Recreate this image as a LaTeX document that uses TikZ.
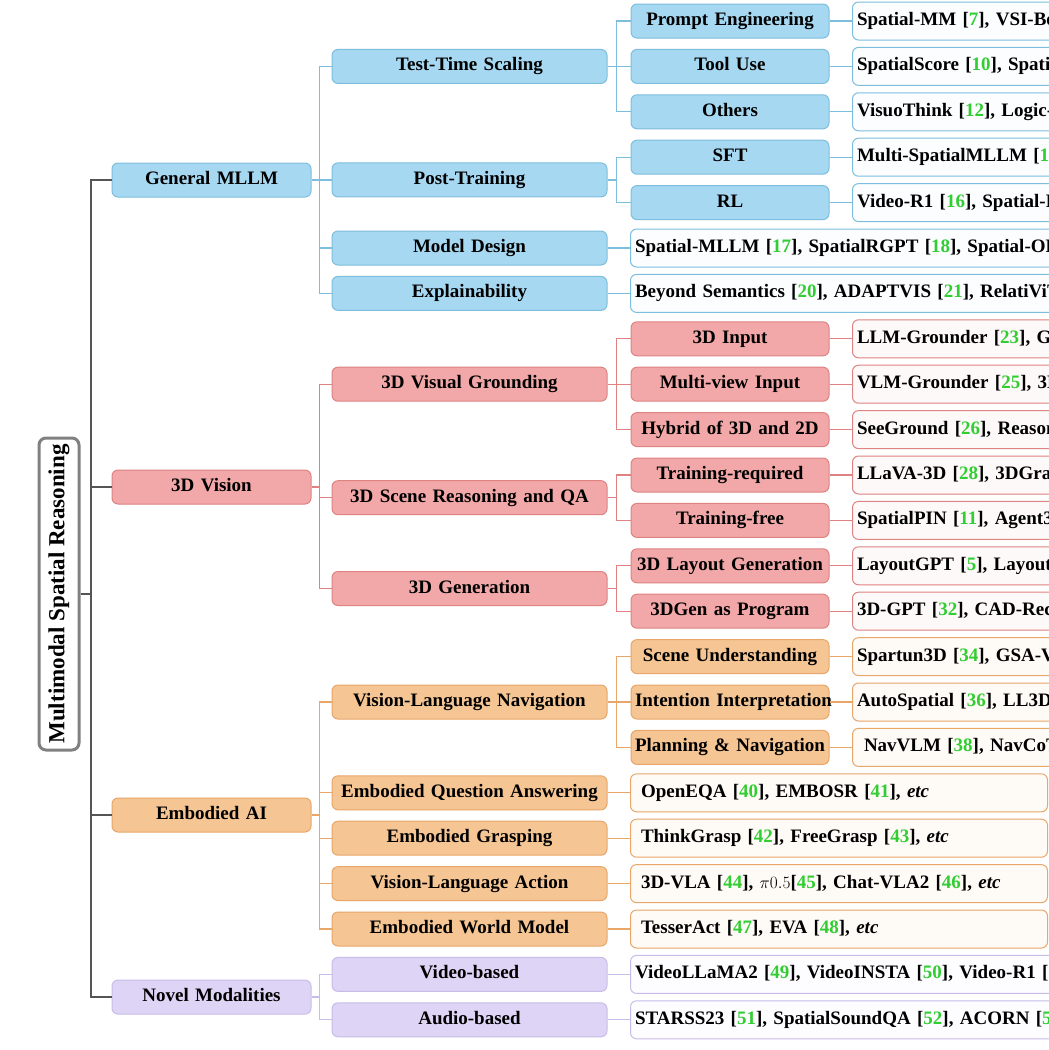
\documentclass[tikz,border=0pt]{standalone}
\usepackage{fontspec}
\setmainfont{Liberation Serif}
\definecolor{cgreen}{RGB}{50,205,50}
\definecolor{bfill}{RGB}{166,216,242}
\definecolor{bdraw}{RGB}{125,190,222}
\definecolor{rfill}{RGB}{242,168,168}
\definecolor{rdraw}{RGB}{222,130,130}
\definecolor{ofill}{RGB}{245,197,148}
\definecolor{odraw}{RGB}{232,166,104}
\definecolor{pfill}{RGB}{222,212,245}
\definecolor{pdraw}{RGB}{200,188,232}
\definecolor{trunk}{RGB}{85,85,85}
\definecolor{rootdraw}{RGB}{128,128,128}
\newcommand{\rf}[1]{[\textcolor{cgreen}{#1}]}
\tikzset{
  fnt/.style={font=\fontsize{19}{22}\selectfont\bfseries},
  box/.style={fnt, rounded corners=6pt, line width=1pt, inner ysep=0pt, inner xsep=4pt,
    minimum height=34pt, align=center, text height=13pt, text depth=4pt},
  lone/.style={box, text width=191pt},
  ltwo/.style={box, text width=267pt},
  lthree/.style={box, text width=190pt},
  leaf/.style={fnt, rounded corners=6pt, line width=1pt, inner ysep=0pt, inner xsep=4.5pt,
    minimum height=38pt, align=left, anchor=west, text height=13pt, text depth=4pt},
  lfar/.style={leaf, text width=600pt},
  lemb/.style={leaf, text width=408pt},
  B/.style={fill=bfill, draw=bdraw},
  R/.style={fill=rfill, draw=rdraw},
  O/.style={fill=ofill, draw=odraw},
  P/.style={fill=pfill, draw=pdraw},
  BL/.style={fill=bfill!4!white, draw=bdraw},
  RL/.style={fill=rfill!7!white, draw=rdraw},
  OL/.style={fill=ofill!8!white, draw=odraw},
  PL/.style={fill=pfill!7!white, draw=pdraw},
  bline/.style={draw=bdraw, line width=1.3pt},
  rline/.style={draw=rdraw, line width=1.3pt},
  oline/.style={draw=odraw, line width=1.3pt},
  pline/.style={draw=pdraw, line width=1.3pt},
  gline/.style={draw=trunk, line width=2pt},
}
\begin{document}
\begin{tikzpicture}[x=1pt,y=-1pt]
\useasboundingbox (0,0) rectangle (1049,1050);
\clip (0,0) rectangle (1049,1050);
\fill[white] (0,0) rectangle (1049,1050);

% root
\node[rotate=90, draw=rootdraw, line width=3pt, rounded corners=7pt, fill=white,
  minimum width=312pt, minimum height=40pt, inner sep=0pt,
  font=\fontsize{23}{26}\selectfont\bfseries] (root) at (59,594) {Multimodal Spatial Reasoning};

% level 1
\node[lone,B] (gen) at (211.5,180) {General MLLM};
\node[lone,R] (vis) at (211.5,487) {3D Vision};
\node[lone,O] (emb) at (211.5,815) {Embodied AI};
\node[lone,P] (nov) at (211.5,997.1) {Novel Modalities};

% level 2
\node[ltwo,B] (tts) at (469.5,66.4) {Test-Time Scaling};
\node[ltwo,B] (post) at (469.5,179.9) {Post-Training};
\node[ltwo,B] (mdes) at (469.5,248) {Model Design};
\node[ltwo,B] (expl) at (469.5,293.4) {Explainability};
\node[ltwo,R] (vg) at (469.5,384.2) {3D Visual Grounding};
\node[ltwo,R] (srq) at (469.5,497.7) {3D Scene Reasoning and QA};
\node[ltwo,R] (gthree) at (469.5,588.5) {3D Generation};
\node[ltwo,O] (vln) at (469.5,702) {Vision-Language Navigation};
\node[ltwo,O] (eqa) at (469.5,792.8) {Embodied Question Answering};
\node[ltwo,O] (grasp) at (469.5,838.2) {Embodied Grasping};
\node[ltwo,O] (vla) at (469.5,883.6) {Vision-Language Action};
\node[ltwo,O] (ewm) at (469.5,929) {Embodied World Model};
\node[ltwo,P] (video) at (469.5,974.4) {Video-based};
\node[ltwo,P] (audio) at (469.5,1019.8) {Audio-based};

% level 3
\node[lthree,B] (pe) at (730,21) {Prompt Engineering};
\node[lthree,B] (tool) at (730,66.4) {Tool Use};
\node[lthree,B] (oth) at (730,111.8) {Others};
\node[lthree,B] (sft) at (730,157.2) {SFT};
\node[lthree,B] (rl) at (730,202.6) {RL};
\node[lthree,R] (tdin) at (730,338.8) {3D Input};
\node[lthree,R] (mv) at (730,384.2) {Multi-view Input};
\node[lthree,R] (hyb) at (730,429.6) {Hybrid of 3D and 2D};
\node[lthree,R] (treq) at (730,475) {Training-required};
\node[lthree,R] (tfree) at (730,520.4) {Training-free};
\node[lthree,R] (lay) at (730,565.8) {\mbox{3D Layout Generation}};
\node[lthree,R] (prog) at (730,611.2) {3DGen as Program};
\node[lthree,O] (scu) at (730,656.6) {\mbox{Scene Understanding}};
\node[lthree,O] (intp) at (730,702) {\mbox{Intention Interpretation}};
\node[lthree,O] (plan) at (730,747.4) {\mbox{Planning \& Navigation}};

% leaves (level-3 children)
\node[lfar,BL] (pel) at (852,21) {Spatial-MM \rf{7}, VSI-Bench \rf{8}, SpatialMind \rf{9}};
\node[lfar,BL] (tooll) at (852,66.4) {SpatialScore \rf{10}, SpatialPIN \rf{11}};
\node[lfar,BL] (othl) at (852,111.8) {VisuoThink \rf{12}, Logic-RAG \rf{13}};
\node[lfar,BL] (sftl) at (852,157.2) {Multi-SpatialMLLM \rf{14}, SpaceR \rf{15}};
\node[lfar,BL] (rll) at (852,202.6) {Video-R1 \rf{16}, Spatial-R1 \rf{19}};
\node[lfar,RL] (tdinl) at (852,338.8) {LLM-Grounder \rf{23}, GPT4Scene \rf{24}};
\node[lfar,RL] (mvl) at (852,384.2) {VLM-Grounder \rf{25}, 3DAxisPrompt \rf{27}};
\node[lfar,RL] (hybl) at (852,429.6) {SeeGround \rf{26}, Reasoning3D \rf{27}};
\node[lfar,RL] (treql) at (852,475) {LLaVA-3D \rf{28}, 3DGraphLLM \rf{29}};
\node[lfar,RL] (tfreel) at (852,520.4) {SpatialPIN \rf{11}, Agent3D-Zero \rf{30}};
\node[lfar,RL] (layl) at (852,565.8) {LayoutGPT \rf{5}, LayoutVLM \rf{31}};
\node[lfar,RL] (progl) at (852,611.2) {3D-GPT \rf{32}, CAD-Recode \rf{33}};
\node[lfar,OL] (scul) at (852,656.6) {Spartun3D \rf{34}, GSA-VLN \rf{35}};
\node[lfar,OL] (intpl) at (852,702) {AutoSpatial \rf{36}, LL3DA \rf{37}};
\node[lfar,OL] (planl) at (852,747.4) {\hspace*{7pt}NavVLM \rf{38}, NavCoT \rf{39}};

% leaves (level-2 children)
\node[lfar,BL] (mdesl) at (630,248) {Spatial-MLLM \rf{17}, SpatialRGPT \rf{18}, Spatial-OR \rf{19}};
\node[lfar,BL] (expll) at (630,293.4) {Beyond Semantics \rf{20}, ADAPTVIS \rf{21}, RelatiViT \rf{22}};
\node[lemb,OL] (eqal) at (630,792.8) {\hspace*{6pt}OpenEQA \rf{40}, EMBOSR \rf{41}, \textit{etc}};
\node[lemb,OL] (graspl) at (630,838.2) {\hspace*{6pt}ThinkGrasp \rf{42}, FreeGrasp \rf{43}, \textit{etc}};
\node[lemb,OL] (vlal) at (630,883.6) {\hspace*{6pt}3D-VLA \rf{44}, $\pi0.5$\rf{45}, Chat-VLA2 \rf{46}, \textit{etc}};
\node[lemb,OL] (ewml) at (630,929) {\hspace*{6pt}TesserAct \rf{47}, EVA \rf{48}, \textit{etc}};
\node[lfar,PL] (videol) at (630,974.4) {VideoLLaMA2 \rf{49}, VideoINSTA \rf{50}, Video-R1 \rf{16}};
\node[lfar,PL] (audiol) at (630,1019.8) {STARSS23 \rf{51}, SpatialSoundQA \rf{52}, ACORN \rf{53}};

% trunk
\foreach \t in {gen,vis,emb,nov} \draw[gline] (root.south) -- ++(10,0) |- (\t.west);

% level1 -> level2
\foreach \t in {tts,post,mdes,expl} \draw[bline] (gen.east) -- ++(8,0) |- (\t.west);
\foreach \t in {vg,srq,gthree} \draw[rline] (vis.east) -- ++(8,0) |- (\t.west);
\foreach \t in {vln,eqa,grasp,vla,ewm} \draw[oline] (emb.east) -- ++(8,0) |- (\t.west);
\foreach \t in {video,audio} \draw[pline] (nov.east) -- ++(8,0) |- (\t.west);

% level2 -> level3
\foreach \t in {pe,tool,oth} \draw[bline] (tts.east) -- ++(9,0) |- (\t.west);
\foreach \t in {sft,rl} \draw[bline] (post.east) -- ++(9,0) |- (\t.west);
\foreach \t in {tdin,mv,hyb} \draw[rline] (vg.east) -- ++(9,0) |- (\t.west);
\foreach \t in {treq,tfree} \draw[rline] (srq.east) -- ++(9,0) |- (\t.west);
\foreach \t in {lay,prog} \draw[rline] (gthree.east) -- ++(9,0) |- (\t.west);
\foreach \t in {scu,intp,plan} \draw[oline] (vln.east) -- ++(9,0) |- (\t.west);

% to leaves
\foreach \a/\b in {pe/pel,tool/tooll,oth/othl,sft/sftl,rl/rll,mdes/mdesl,expl/expll}
  \draw[bline] (\a.east) -- (\b.west);
\foreach \a/\b in {tdin/tdinl,mv/mvl,hyb/hybl,treq/treql,tfree/tfreel,lay/layl,prog/progl}
  \draw[rline] (\a.east) -- (\b.west);
\foreach \a/\b in {scu/scul,intp/intpl,plan/planl,eqa/eqal,grasp/graspl,vla/vlal,ewm/ewml}
  \draw[oline] (\a.east) -- (\b.west);
\foreach \a/\b in {video/videol,audio/audiol}
  \draw[pline] (\a.east) -- (\b.west);
\end{tikzpicture}
\end{document}
